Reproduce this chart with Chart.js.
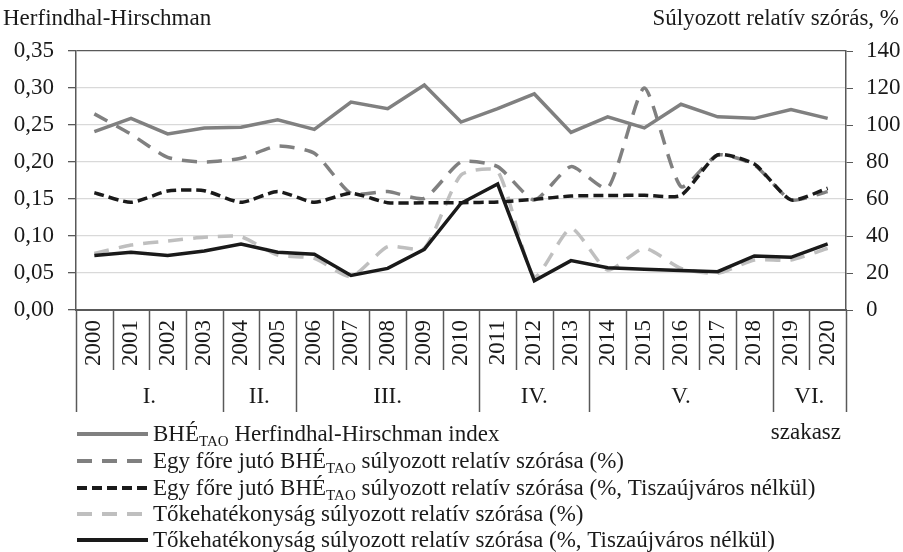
<!DOCTYPE html>
<html>
<head>
<meta charset="utf-8">
<script src="https://cdn.jsdelivr.net/npm/chart.js@4"></script>
<style>
  body { margin: 0; background: #fff; }
  #wrap { width: 903px; height: 552px; }
</style>
</head>
<body>
<div id="wrap"><canvas id="chart" width="903" height="552"></canvas></div>
<script>
const years = ['2000','2001','2002','2003','2004','2005','2006','2007','2008','2009','2010',
               '2011','2012','2013','2014','2015','2016','2017','2018','2019','2020'];

// szakaszok: név + hány év tartozik bele
const periods = ['I.', 'II.', 'III.', 'IV.', 'V.', 'VI.'];
const periodLengths = [4, 2, 5, 3, 5, 2];

// bal tengely (Herfindhal-Hirschman)
const hhIndex = [0.241, 0.259, 0.238, 0.246, 0.247, 0.257, 0.244, 0.281, 0.272, 0.304, 0.254,
                 0.272, 0.292, 0.240, 0.261, 0.246, 0.278, 0.261, 0.259, 0.271, 0.259];

// jobb tengely (%)
const perCapita = [106, 95, 82.5, 80, 82, 88.6, 84.7, 63, 64, 60.4, 80,
                   77.5, 59.5, 77.5, 65.8, 120, 66.7, 83.8, 78.4, 59.5, 64];
const perCapitaNoTU = [63.4, 58.2, 64.3, 64.5, 58.2, 64, 58.2, 63.1, 58, 58, 58,
                       58.4, 59.8, 61.6, 61.9, 62, 62, 83.8, 78.9, 59.5, 65.8];
const capital = [30.6, 35.1, 37.3, 39.3, 39.6, 29.7, 27.9, 18, 34.2, 33.4, 73,
                 75, 18, 44.2, 21.6, 33.4, 22.5, 19.8, 27, 27, 33.4];
const capitalNoTU = [29.4, 31.2, 29.5, 31.9, 35.7, 31.2, 30.1, 18.7, 22.5, 32.8, 57.7,
                     68.1, 15.8, 26.7, 22.9, 22, 21.3, 20.7, 29.2, 28.5, 35.7];

const leftTitle = 'Herfindhal-Hirschman';
const rightTitle = 'Súlyozott relatív szórás, %';

// jelmagyarázat: [szöveg, alsó index, folytatás]
const legendParts = [
  ['BHÉ', 'TAO', ' Herfindhal-Hirschman index'],
  ['Egy főre jutó BHÉ', 'TAO', ' súlyozott relatív szórása (%)'],
  ['Egy főre jutó BHÉ', 'TAO', ' súlyozott relatív szórása (%, Tiszaújváros nélkül)'],
  ['Tőkehatékonyság súlyozott relatív szórása (%)', '', ''],
  ['Tőkehatékonyság súlyozott relatív szórása (%, Tiszaújváros nélkül)', '', '']
];

const FONT = "'Liberation Serif', serif";
const AXIS = '#595959';
Chart.defaults.font.family = FONT;
Chart.defaults.font.size = 23;
Chart.defaults.color = '#1a1a1a';

const extras = {
  id: 'extras',
  afterDraw(chart) {
    const ctx = chart.ctx;
    const a = chart.chartArea;
    const n = years.length;
    const w = (a.right - a.left) / n;
    ctx.save();
    ctx.font = '23px ' + FONT;
    ctx.fillStyle = '#1a1a1a';
    ctx.textBaseline = 'middle';
    ctx.textAlign = 'left';
    ctx.fillText(leftTitle, 3, 19);
    ctx.textAlign = 'right';
    ctx.fillText(rightTitle, 899, 19);

    // elválasztó vonalak a kategóriák alatt
    const groupEdges = [0];
    periodLengths.forEach(l => groupEdges.push(groupEdges[groupEdges.length - 1] + l));
    ctx.strokeStyle = AXIS;
    ctx.lineWidth = 1.5;
    for (let i = 0; i <= n; i++) {
      const x = Math.round(a.left + i * w) + 0.5;
      ctx.beginPath();
      ctx.moveTo(x, a.bottom);
      ctx.lineTo(x, groupEdges.includes(i) ? 412 : 370);
      ctx.stroke();
    }
    ctx.textAlign = 'center';
    periods.forEach((p, k) => {
      const x = a.left + (groupEdges[k] + groupEdges[k + 1]) / 2 * w;
      ctx.fillText(p, x, 397);
    });
    ctx.textAlign = 'right';
    ctx.fillText('szakasz', 841, 433);

    // jelmagyarázat
    const rows = [434, 461, 488, 514, 540];
    rows.forEach((y, r) => {
      const ds = chart.data.datasets[r];
      ctx.strokeStyle = ds.borderColor;
      ctx.lineWidth = 4;
      ctx.setLineDash(ds.borderDash || []);
      ctx.beginPath();
      ctx.moveTo(77, y);
      ctx.lineTo(148, y);
      ctx.stroke();
      ctx.setLineDash([]);
      const [t1, sub, t2] = legendParts[r];
      let x = 153;
      ctx.textAlign = 'left';
      ctx.font = '23px ' + FONT;
      ctx.fillText(t1, x, y + 1);
      x += ctx.measureText(t1).width;
      if (sub) {
        ctx.font = '15px ' + FONT;
        ctx.fillText(sub, x, y + 8);
        x += ctx.measureText(sub).width;
        ctx.font = '23px ' + FONT;
      }
      if (t2) ctx.fillText(t2, x, y + 1);
    });
    ctx.restore();
  }
};

new Chart(document.getElementById('chart'), {
  type: 'line',
  data: {
    labels: years,
    datasets: [
      { label: 'HH', data: hhIndex, yAxisID: 'y', borderColor: '#808080', borderWidth: 3.5,
        pointRadius: 0, tension: 0, order: 2 },
      { label: 'perCapita', data: perCapita, yAxisID: 'y1', borderColor: '#808080', borderWidth: 3.5,
        borderDash: [15, 10], pointRadius: 0, tension: 0.2, order: 4 },
      { label: 'perCapitaNoTU', data: perCapitaNoTU, yAxisID: 'y1', borderColor: '#1a1a1a', borderWidth: 3.5,
        borderDash: [10, 5], pointRadius: 0, tension: 0.2, order: 1 },
      { label: 'capital', data: capital, yAxisID: 'y1', borderColor: '#bfbfbf', borderWidth: 3.5,
        borderDash: [15, 10], pointRadius: 0, tension: 0.2, order: 3 },
      { label: 'capitalNoTU', data: capitalNoTU, yAxisID: 'y1', borderColor: '#1a1a1a', borderWidth: 3.5,
        pointRadius: 0, tension: 0, order: 0 }
    ]
  },
  options: {
    responsive: false,
    animation: false,
    layout: { padding: { top: 51, left: 0, right: 0, bottom: 0 } },
    plugins: { legend: { display: false }, tooltip: { enabled: false } },
    scales: {
      x: {
        offset: true,
        grid: { display: false, drawTicks: false },
        border: { color: AXIS, width: 2 },
        ticks: { minRotation: 90, maxRotation: 90, padding: 10, autoSkip: false },
        afterFit: s => { s.height = 242; }
      },
      y: {
        position: 'left',
        min: 0, max: 0.35,
        ticks: { stepSize: 0.05, padding: 14, callback: v => v.toFixed(2).replace('.', ',') },
        grid: {
          color: c => (c.tick && c.tick.value > 0.349) ? AXIS : '#d9d9d9',
          lineWidth: 1.3, tickLength: 8, tickColor: AXIS
        },
        border: { color: AXIS, width: 1.5 },
        afterFit: s => { s.width = 76; }
      },
      y1: {
        position: 'right',
        min: 0, max: 140,
        ticks: { stepSize: 20, padding: 13 },
        grid: { drawOnChartArea: false, tickLength: 7, tickColor: AXIS },
        border: { color: AXIS, width: 1.5 },
        afterFit: s => { s.width = 57; }
      }
    }
  },
  plugins: [extras]
});
</script>
</body>
</html>
